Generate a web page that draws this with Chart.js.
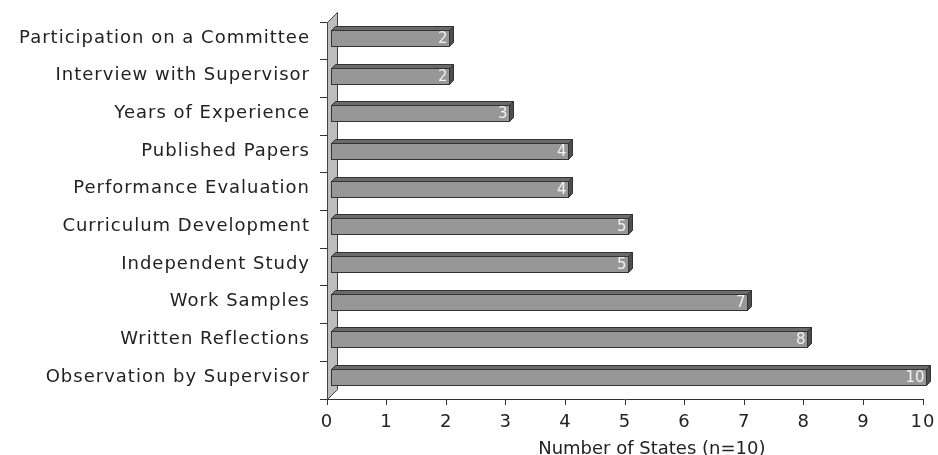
<!DOCTYPE html>
<html>
<head>
<meta charset="utf-8">
<script src="https://cdn.jsdelivr.net/npm/chart.js@4/dist/chart.umd.min.js"></script>
<style>
  html, body { margin: 0; padding: 0; background: #fff; overflow: hidden; }
  #wrap { width: 938px; height: 455px; }
</style>
</head>
<body>
<div id="wrap"><canvas id="statesChart" width="938" height="455"></canvas></div>
<script>
const categories = [
  "Participation on a Committee",
  "Interview with Supervisor",
  "Years of Experience",
  "Published Papers",
  "Performance Evaluation",
  "Curriculum Development",
  "Independent Study",
  "Work Samples",
  "Written Reflections",
  "Observation by Supervisor",
];
const stateCounts = [2, 2, 3, 4, 4, 5, 5, 7, 8, 10];
const axisTitle = "Number of States (n=10)";

const FONT = "'DejaVu Sans', Verdana, sans-serif";

// front face is pushed back/up a little, then given a top and a side face
const SHIFT = 3;
const DEPTH = 4;
const WALL_DEPTH = 10;

// wide, Verdana-like spacing for all axis text
const spacingPlugin = {
  id: "spacing",
  beforeDraw(chart) {
    chart.ctx.letterSpacing = "1px";
  },
  afterDraw(chart) {
    chart.ctx.letterSpacing = "0px";
  },
};

const wallPlugin = {
  id: "wall",
  beforeDatasetsDraw(chart) {
    const { ctx, chartArea, scales } = chart;
    const x0 = Math.round(scales.x.getPixelForValue(0)) + 0.5;
    const top = chartArea.top + 0.5;
    const bottom = chartArea.bottom + 0.5;
    ctx.save();
    ctx.beginPath();
    ctx.moveTo(x0, top);
    ctx.lineTo(x0 + WALL_DEPTH, top - WALL_DEPTH);
    ctx.lineTo(x0 + WALL_DEPTH, bottom - WALL_DEPTH);
    ctx.lineTo(x0, bottom);
    ctx.closePath();
    ctx.fillStyle = "#bdbdbd";
    ctx.fill();
    ctx.strokeStyle = "#444";
    ctx.lineWidth = 1;
    ctx.stroke();
    ctx.restore();
  },
};

const bar3dPlugin = {
  id: "bar3d",
  afterDatasetsDraw(chart) {
    const { ctx } = chart;
    const meta = chart.getDatasetMeta(0);
    ctx.save();
    ctx.letterSpacing = "0px";
    ctx.lineWidth = 1;
    ctx.strokeStyle = "#333";
    meta.data.forEach((bar, i) => {
      const { x, y, base, height } = bar.getProps(["x", "y", "base", "height"], true);
      const l = Math.round(base + SHIFT) + 0.5;
      const r = Math.round(x + SHIFT) + 0.5;
      const t = Math.round(y - height / 2 - SHIFT) + 0.5;
      const b = Math.round(y + height / 2 - SHIFT) + 0.5;

      // top face
      ctx.beginPath();
      ctx.moveTo(l, t);
      ctx.lineTo(l + DEPTH, t - DEPTH);
      ctx.lineTo(r + DEPTH, t - DEPTH);
      ctx.lineTo(r, t);
      ctx.closePath();
      ctx.fillStyle = "#6a6a6a";
      ctx.fill();
      ctx.stroke();

      // side face
      ctx.beginPath();
      ctx.moveTo(r, t);
      ctx.lineTo(r + DEPTH, t - DEPTH);
      ctx.lineTo(r + DEPTH, b - DEPTH);
      ctx.lineTo(r, b);
      ctx.closePath();
      ctx.fillStyle = "#4e4e4e";
      ctx.fill();
      ctx.stroke();

      // front face
      ctx.fillStyle = "#979797";
      ctx.fillRect(l, t, r - l, b - t);
      ctx.strokeRect(l, t, r - l, b - t);

      // value inside the bar end
      ctx.fillStyle = "#f2f2f2";
      ctx.font = "15px " + FONT;
      ctx.textAlign = "right";
      ctx.textBaseline = "middle";
      ctx.fillText(String(stateCounts[i]), r - 2, (t + b) / 2 + 1);
    });
    ctx.restore();
  },
};

// axis title sits a bit right of the plot centre, cut by the bottom edge
const titlePlugin = {
  id: "xTitle",
  afterDraw(chart) {
    const { ctx, scales } = chart;
    ctx.save();
    ctx.letterSpacing = "0px";
    ctx.font = "18px " + FONT;
    ctx.fillStyle = "#222";
    ctx.textAlign = "center";
    ctx.textBaseline = "middle";
    ctx.fillText(axisTitle, scales.x.getPixelForValue(5.45), scales.x.bottom - 6);
    ctx.restore();
  },
};

const ctx = document.getElementById("statesChart").getContext("2d");
new Chart(ctx, {
  type: "bar",
  data: {
    labels: categories,
    datasets: [
      {
        data: stateCounts,
        backgroundColor: "transparent",
        borderWidth: 0,
        barPercentage: 0.85,
        categoryPercentage: 0.5,
      },
    ],
  },
  options: {
    indexAxis: "y",
    responsive: false,
    animation: false,
    events: [],
    layout: { padding: { top: 22, right: 15, bottom: 0, left: 0 } },
    plugins: {
      legend: { display: false },
      tooltip: { enabled: false },
    },
    scales: {
      x: {
        min: 0,
        max: 10,
        afterFit: (scale) => {
          scale.height = 56;
          scale.paddingLeft = 0;
          scale.paddingRight = 0;
        },
        grid: {
          drawOnChartArea: false,
          tickLength: 6,
          color: "#333",
        },
        border: { color: "#333" },
        ticks: {
          stepSize: 1,
          color: "#222",
          padding: 7,
          font: { family: FONT, size: 18 },
        },
      },
      y: {
        afterFit: (scale) => { scale.width = 327; },
        grid: {
          drawOnChartArea: false,
          tickLength: 7,
          color: "#333",
        },
        border: { color: "#333" },
        ticks: {
          color: "#222",
          padding: 10,
          labelOffset: -3,
          font: { family: FONT, size: 18 },
        },
      },
    },
  },
  plugins: [spacingPlugin, wallPlugin, bar3dPlugin, titlePlugin],
});
</script>
</body>
</html>
